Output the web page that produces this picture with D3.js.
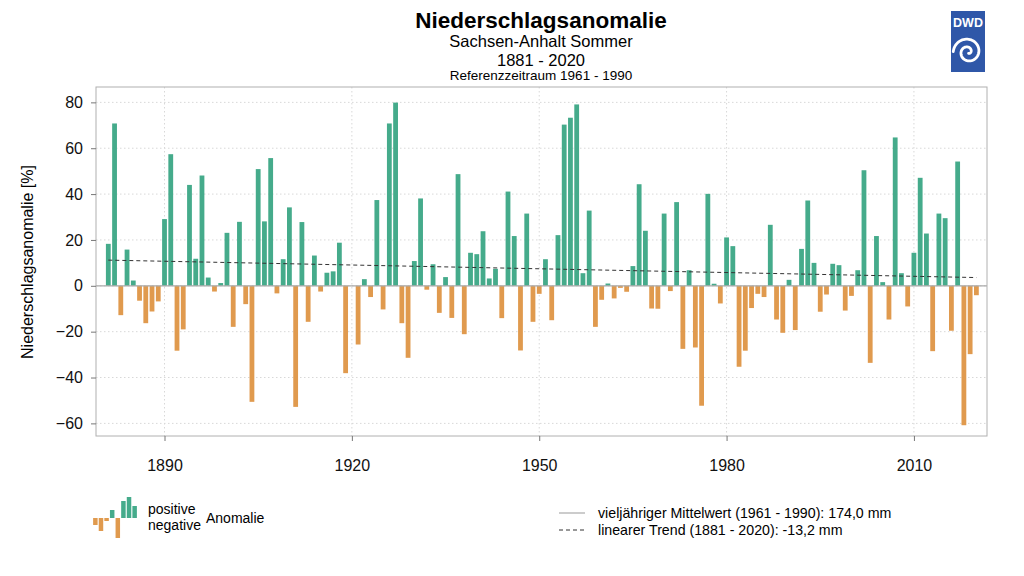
<!DOCTYPE html>
<html>
<head>
<meta charset="utf-8">
<script src="https://cdn.jsdelivr.net/npm/d3@7"></script>
<style>
  body { margin: 0; background: #fff; }
  svg { font-family: "Liberation Sans", Arial, sans-serif; }
</style>
</head>
<body>
<div id="chart"></div>
<script>
// Sommer-Niederschlagsanomalie Sachsen-Anhalt in % (Referenz 1961-1990)
const years = d3.range(1881, 2021);
const anomalies = [
  18.3, 70.8, -12.8, 15.8, 2.3, -6.5, -16.3, -11.2, -6.8, 29.1,
  57.4, -28.3, -19.0, 44.0, 11.8, 48.1, 3.6, -2.5, 1.2, 23.1,
  -17.9, 27.9, -8.0, -50.6, 50.9, 28.1, 55.7, -3.3, 11.6, 34.2,
  -52.8, 27.8, -15.7, 13.2, -2.5, 5.7, 6.3, 18.8, -38.1, 0.0,
  -25.6, 2.9, -4.9, 37.4, -10.3, 70.8, 79.9, -16.3, -31.4, 10.8,
  38.1, -1.7, 9.4, -11.8, 3.8, -14.0, 48.7, -21.1, 14.4, 13.8,
  23.8, 3.2, 7.4, -14.1, 41.1, 21.7, -28.2, 31.5, -15.7, -3.5,
  11.6, -15.0, 22.1, 70.3, 73.3, 79.1, 5.5, 32.8, -17.9, -6.1,
  1.0, -5.5, -0.9, -2.6, 8.6, 44.3, 24.0, -9.9, -10.0, 31.5,
  -2.3, 36.5, -27.5, 6.8, -26.9, -52.3, 40.1, 0.9, -7.7, 21.1,
  17.3, -35.3, -28.3, -9.7, -3.5, -4.9, 26.6, -14.7, -20.5, 2.6,
  -19.3, 16.1, 37.2, 10.0, -11.3, -3.8, 9.6, 9.0, -10.8, -4.4,
  6.8, 50.4, -33.6, 21.7, 1.6, -14.7, 64.7, 5.5, -9.0, 14.4,
  47.1, 22.8, -28.5, 31.5, 29.5, -19.6, 54.2, -60.8, -29.8, -4.1
];
const trendYears = [1881, 2020];
const trendValues = [11.2, 3.6];
const yTicks = [-60, -40, -20, 0, 20, 40, 60, 80];
const xTicks = [1890, 1920, 1950, 1980, 2010];
const legendBars = [-7, -13, -3, 8, -20, 17, 21, 12];

const green = "#45ab8b", orange = "#e09a4e";

const W = 1024, H = 576;
const margin = { top: 87, right: 37, bottom: 140, left: 96 };
const width = W - margin.left - margin.right,
      height = H - margin.top - margin.bottom;

const svg = d3.select("#chart").append("svg")
    .attr("width", W)
    .attr("height", H);

// titles
const titles = [
  { t: "Niederschlagsanomalie", y: 28, size: 22.5, bold: true },
  { t: "Sachsen-Anhalt Sommer", y: 47, size: 16.5 },
  { t: "1881 - 2020", y: 66, size: 16.5 },
  { t: "Referenzzeitraum 1961 - 1990", y: 80, size: 13.5 }
];
svg.selectAll(".title").data(titles).enter().append("text")
    .attr("x", 541).attr("y", d => d.y)
    .attr("text-anchor", "middle")
    .attr("font-size", d => d.size)
    .attr("font-weight", d => d.bold ? "bold" : "normal")
    .text(d => d.t);

// DWD logo
const logo = svg.append("g").attr("transform", "translate(951,11)");
logo.append("rect").attr("width", 34).attr("height", 61).attr("fill", "#2f57a8");
logo.append("text").attr("x", 17).attr("y", 16).attr("text-anchor", "middle")
    .attr("fill", "#fff").attr("font-weight", "bold").attr("font-size", 12.5).text("DWD");
const spiral = d3.range(0, 3.4 * Math.PI, 0.1).map(a => {
  const r = 1.5 + a * 1.25;
  return [17 + r * Math.cos(-a + 1.2), 41 + r * Math.sin(-a + 1.2)];
});
logo.append("path").attr("d", d3.line()(spiral))
    .attr("fill", "none").attr("stroke", "#fff").attr("stroke-width", 2.8)
    .attr("stroke-linecap", "round");

const g = svg.append("g")
    .attr("transform", `translate(${margin.left},${margin.top})`);

const x = d3.scaleLinear().domain([1879.03, 2021.7]).range([0, width]);
const y = d3.scaleLinear().domain([-65.5, 86.7]).range([height, 0]);
const barW = 4.8;

// grid
g.append("g").selectAll("line").data(yTicks).enter().append("line")
    .attr("x1", 0).attr("x2", width)
    .attr("y1", d => y(d)).attr("y2", d => y(d))
    .attr("stroke", "#d8d8d8").attr("stroke-dasharray", "1.5,2.5");
g.append("g").selectAll("line").data(xTicks).enter().append("line")
    .attr("x1", d => x(d)).attr("x2", d => x(d))
    .attr("y1", 0).attr("y2", height)
    .attr("stroke", "#d8d8d8").attr("stroke-dasharray", "1.5,2.5");

// bars
g.selectAll(".bar")
    .data(years.map((yr, i) => [yr, anomalies[i]]))
    .enter().append("rect")
    .attr("class", "bar")
    .attr("x", d => x(d[0]) - barW / 2)
    .attr("width", barW)
    .attr("y", d => y(Math.max(0, d[1])))
    .attr("height", d => Math.abs(y(d[1]) - y(0)))
    .attr("fill", d => d[1] >= 0 ? green : orange);

// mean line
g.append("line")
    .attr("x1", 0).attr("x2", width)
    .attr("y1", y(0)).attr("y2", y(0))
    .attr("stroke", "#aaa").attr("stroke-width", 1.2);

// trend
g.append("line")
    .attr("x1", x(trendYears[0])).attr("x2", x(trendYears[1]))
    .attr("y1", y(trendValues[0])).attr("y2", y(trendValues[1]))
    .attr("stroke", "#333").attr("stroke-width", 1)
    .attr("stroke-dasharray", "4,3");

// frame
g.append("rect").attr("width", width).attr("height", height)
    .attr("fill", "none").attr("stroke", "#b0b0b0");

// axes
const yAxis = g.append("g")
    .call(d3.axisLeft(y).tickValues(yTicks).tickSize(5).tickPadding(8));
const xAxis = g.append("g")
    .attr("transform", `translate(0,${height})`)
    .call(d3.axisBottom(x).tickValues(xTicks).tickFormat(d3.format("d")).tickSize(5).tickPadding(19));
[yAxis, xAxis].forEach(a => {
  a.select(".domain").remove();
  a.selectAll(".tick line").attr("stroke", "#777");
  a.selectAll(".tick text").attr("font-size", 16).attr("fill", "#111")
      .attr("font-family", "Liberation Sans, Arial, sans-serif");
});

svg.append("text")
    .attr("transform", "translate(33,262) rotate(-90)")
    .attr("text-anchor", "middle")
    .attr("font-size", 16)
    .text("Niederschlagsanomalie [%]");

// legend left: mini bars
const lx = d3.scaleBand().domain(d3.range(legendBars.length)).range([92, 138]).padding(0.2);
svg.append("g").selectAll("rect").data(legendBars).enter().append("rect")
    .attr("x", (d, i) => lx(i))
    .attr("width", lx.bandwidth())
    .attr("y", d => d > 0 ? 518 - d : 518)
    .attr("height", d => Math.abs(d))
    .attr("fill", d => d > 0 ? green : orange);
svg.append("text").attr("x", 148).attr("y", 514).attr("font-size", 14).text("positive");
svg.append("text").attr("x", 148).attr("y", 530).attr("font-size", 14).text("negative");
svg.append("text").attr("x", 206).attr("y", 523).attr("font-size", 14).text("Anomalie");

// legend right
svg.append("line").attr("x1", 559).attr("x2", 585).attr("y1", 513).attr("y2", 513)
    .attr("stroke", "#aaa").attr("stroke-width", 1.2);
svg.append("line").attr("x1", 559).attr("x2", 585).attr("y1", 530).attr("y2", 530)
    .attr("stroke", "#333").attr("stroke-dasharray", "4,3");
svg.append("text").attr("x", 598).attr("y", 518).attr("font-size", 14.2)
    .text("vieljähriger Mittelwert (1961 - 1990): 174,0 mm");
svg.append("text").attr("x", 598).attr("y", 535).attr("font-size", 14.2)
    .text("linearer Trend (1881 - 2020): -13,2 mm");
</script>
</body>
</html>
